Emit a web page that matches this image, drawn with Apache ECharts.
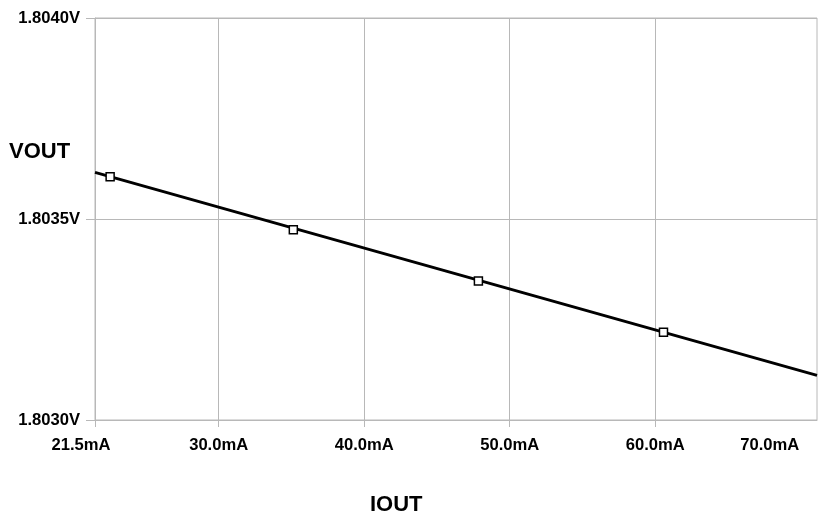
<!DOCTYPE html>
<html>
<head>
<meta charset="utf-8">
<script src="https://cdn.jsdelivr.net/npm/echarts@6/dist/echarts.min.js"></script>
<style>
  html, body { margin: 0; padding: 0; background: #fff; }
  #chart { width: 818px; height: 515px; }
</style>
</head>
<body>
<div id="chart"></div>
<script>
// measured points (mA, V)
const ioutValues = [22.54, 35.13, 47.85, 60.57];
const voutValues = [1.803605, 1.803473, 1.803346, 1.803218];

// trend line end points
const trendIout = [21.5, 71.12];
const trendVout = [1.803616, 1.803111];

// x tick labels and grid lines
const xLabelValues = [21.5, 30, 40, 50, 60, 70];
const xGridValues = [21.5, 30, 40, 50, 60];

const xMin = 21.5;
const xMax = 71.12;
const yMin = 1.803;
const yMax = 1.804;

const font = 'Liberation Sans, Arial, sans-serif';
const gridColor = '#b8b8b8';

function pairs(xs, ys) {
  return xs.map((x, i) => [x, ys[i]]);
}

const chart = echarts.init(document.getElementById('chart'));

const labelFont = { fontFamily: font, fontSize: 16.6, fontWeight: 'bold', color: '#000' };

chart.setOption({
  animation: false,
  backgroundColor: '#fff',
  title: [
    {
      text: 'VOUT',
      left: 9,
      top: 141,
      padding: 0,
      textStyle: { fontFamily: font, fontSize: 22, fontWeight: 'bold', color: '#000' },
    },
    {
      text: 'IOUT',
      left: 370,
      top: 494,
      padding: 0,
      textStyle: { fontFamily: font, fontSize: 22, fontWeight: 'bold', color: '#000' },
    },
  ],
  grid: {
    left: 95, right: 1, top: 18, bottom: 95, containLabel: false,
    show: true, borderColor: gridColor, borderWidth: 1,
  },
  xAxis: {
    type: 'value',
    min: xMin,
    max: xMax,
    axisLine: { show: true, lineStyle: { color: gridColor, width: 1 } },
    axisTick: { show: true, length: 7, customValues: xGridValues, lineStyle: { color: gridColor } },
    splitLine: { show: true, lineStyle: { color: gridColor, width: 1 } },
    axisLabel: {
      margin: 17,
      customValues: xLabelValues,
      ...labelFont,
      formatter: (v) => {
        const s = v.toFixed(1) + 'mA';
        if (Math.abs(v - 21.5) < 1e-6) return '{first|' + s + '}';
        if (Math.abs(v - 70) < 1e-6) return '{last|' + s + '}';
        return s;
      },
      rich: {
        first: { ...labelFont, padding: [0, 28, 0, 0] },
        last: { ...labelFont, padding: [0, 62, 0, 0] },
      },
    },
  },
  yAxis: {
    type: 'value',
    min: yMin,
    max: yMax,
    interval: 0.0005,
    axisLine: { show: true, lineStyle: { color: gridColor, width: 1 } },
    axisTick: { show: true, length: 9, lineStyle: { color: gridColor } },
    splitLine: { show: true, lineStyle: { color: gridColor, width: 1 } },
    axisLabel: {
      margin: 15,
      ...labelFont,
      formatter: (v) => v.toFixed(4) + 'V',
    },
  },
  series: [
    {
      type: 'line',
      data: pairs(trendIout, trendVout),
      showSymbol: false,
      lineStyle: { color: '#000', width: 3 },
      z: 2,
    },
    {
      type: 'scatter',
      data: pairs(ioutValues, voutValues),
      symbol: 'rect',
      symbolSize: 8,
      itemStyle: { color: '#fff', borderColor: '#000', borderWidth: 1.5, opacity: 1 },
      z: 3,
    },
  ],
});
</script>
</body>
</html>
